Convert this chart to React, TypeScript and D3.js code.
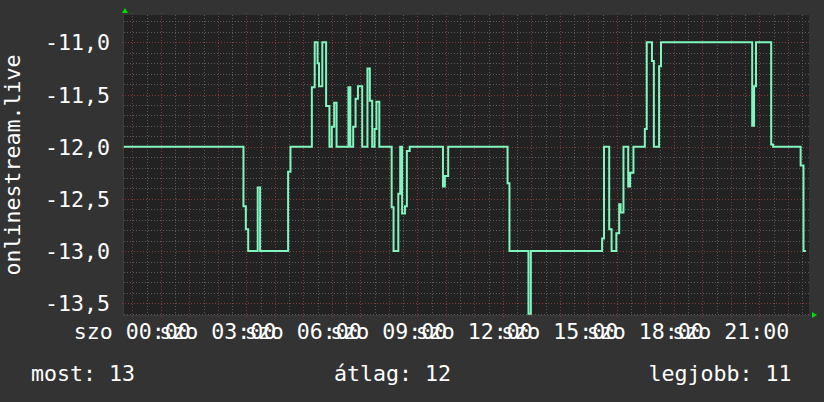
import React from "react";
import * as d3 from "d3";

// step start times in minutes from 00:00 (szo) and the values
const TIMES = [
  -18, 234, 239, 244, 264, 269, 328, 333, 378, 384, 390, 393, 400, 408, 415, 420, 425, 430,
  455, 459, 465, 470, 475, 484, 495, 500, 505, 510, 514, 520, 546, 550, 560, 564, 568, 574,
  578, 584, 654, 658, 665, 790, 794, 834, 839, 989, 993, 1004, 1009, 1019, 1025, 1028, 1034,
  1044, 1048, 1055, 1079, 1083, 1094, 1098, 1109, 1113, 1305, 1309, 1313, 1345, 1349, 1407,
  1413,
];
const VALUES = [
  -12.0, -12.57, -12.79, -13.0, -12.39, -13.0, -12.24, -12.0, -11.43, -11.0, -11.2, -11.42,
  -11.0, -11.61, -12.0, -11.81, -11.58, -12.0, -11.43, -12.0, -11.81, -11.54, -11.42, -12.0,
  -11.25, -11.56, -12.0, -11.83, -11.57, -12.0, -12.58, -13.0, -12.45, -12.0, -12.64, -12.57,
  -12.04, -12.0, -12.38, -12.28, -12.0, -12.35, -13.0, -13.6, -13.0, -12.88, -12.0, -12.79,
  -13.0, -12.83, -12.55, -12.63, -12.0, -12.38, -12.25, -12.0, -11.83, -11.0, -11.18, -12.0,
  -11.23, -11.0, -11.8, -11.42, -11.0, -11.98, -12.0, -12.18, -13.0,
];
const END_TIME = 1418;

const Y_TICKS = [-11.0, -11.5, -12.0, -12.5, -13.0, -13.5];
const Y_TICK_LABELS = ["-11,0", "-11,5", "-12,0", "-12,5", "-13,0", "-13,5"];
const X_LABEL_TIMES = [0, 180, 360, 540, 720, 900, 1080, 1260];
const X_LABELS = [
  "szo 00:00", "szo 03:00", "szo 06:00", "szo 09:00",
  "szo 12:00", "szo 15:00", "szo 18:00", "szo 21:00",
];
const Y_TITLE = "onlinestream.live";
const LEGEND = ["most: 13", "átlag: 12", "legjobb: 11"];

const W = 824;
const H = 402;
const L = 124;
const R = 809;
const T = 15;
const B = 315;
const FONT = "'DejaVu Sans Mono', monospace";
const FS = 21.6;

export default function App() {
  const x = d3.scaleLinear().domain([-17.5, 1424.6]).range([L, R]);
  const y = d3.scaleLinear().domain([-13.612, -10.7385]).range([B, T]);

  const pts: [number, number][] = TIMES.map((t, i) => [t, VALUES[i]]);
  pts.push([END_TIME, VALUES[VALUES.length - 1]]);
  const line = d3
    .line<[number, number]>()
    .x((d) => x(d[0]))
    .y((d) => y(d[1]))
    .curve(d3.curveStepAfter);

  const minorY = d3.range(-136, -107).map((v) => v / 10).filter((v) => y(v) >= T && y(v) <= B);
  const minorX = d3.range(0, 1441, 30).filter((t) => x(t) >= L && x(t) <= R);
  const majorX = d3.range(0, 1441, 60).filter((t) => x(t) >= L && x(t) <= R);

  const px = (v: number) => Math.round(v) + 0.5;

  return (
    <svg
      width={W}
      height={H}
      style={{ position: "absolute", left: 0, top: 0, display: "block" }}
      xmlns="http://www.w3.org/2000/svg"
    >
      <rect x={0} y={0} width={W} height={H} fill="#333333" />
      <rect x={L} y={T} width={R - L} height={B - T} fill="#222222" />

      {/* minor grid */}
      <g stroke="#5a5a5a" strokeWidth={1} strokeDasharray="1 2" shapeRendering="crispEdges">
        {minorY
          .filter((v) => Math.abs(v * 2 - Math.round(v * 2)) > 1e-6)
          .map((v) => (
            <line key={"my" + v} x1={L} x2={R + 2} y1={px(y(v))} y2={px(y(v))} />
          ))}
        {minorX
          .filter((t) => t % 60 !== 0)
          .map((t) => (
            <line key={"mx" + t} x1={px(x(t))} x2={px(x(t))} y1={T} y2={B} />
          ))}
      </g>
      {/* major grid */}
      <g stroke="#843838" strokeWidth={1} strokeDasharray="1 2" shapeRendering="crispEdges">
        {Y_TICKS.map((v) => (
          <line key={"My" + v} x1={L - 2} x2={R + 2} y1={px(y(v))} y2={px(y(v))} />
        ))}
        {majorX.map((t) => (
          <line key={"Mx" + t} x1={px(x(t))} x2={px(x(t))} y1={T - 2} y2={B + 3} />
        ))}
      </g>

      {/* axes */}
      <g stroke="#3c3c3c" strokeWidth={1} shapeRendering="crispEdges">
        <line x1={L - 1} x2={R + 3} y1={B + 0.5} y2={B + 0.5} />
        <line x1={L - 0.5} x2={L - 0.5} y1={T - 3} y2={B + 2} />
      </g>
      <polygon points={`${L - 2},${T - 2} ${L + 4},${T - 2} ${L + 1},${T - 7}`} fill="#00dd00" />
      <polygon points={`${R + 3},${B - 3} ${R + 3},${B + 3} ${R + 8},${B}`} fill="#00dd00" />

      {/* data line */}
      <path d={line(pts) || ""} fill="none" stroke="#80f5bd" strokeWidth={2} />

      {/* y tick labels */}
      <g fontFamily={FONT} fontSize={FS} fill="#ffffff" textAnchor="end">
        {Y_TICKS.map((v, i) => (
          <text key={"yl" + v} x={110} y={y(v) + 8}>
            {Y_TICK_LABELS[i]}
          </text>
        ))}
      </g>
      {/* x labels */}
      <g fontFamily={FONT} fontSize={FS} fill="#ffffff" textAnchor="middle">
        {X_LABEL_TIMES.map((t, i) => (
          <text key={"xl" + t} x={x(t)} y={339}>
            {X_LABELS[i]}
          </text>
        ))}
      </g>
      {/* y title */}
      <text
        transform={`translate(19.5,165) rotate(-90)`}
        fontFamily={FONT}
        fontSize={FS}
        fill="#ffffff"
        textAnchor="middle"
      >
        {Y_TITLE}
      </text>
      {/* legend */}
      <g fontFamily={FONT} fontSize={FS} fill="#ffffff">
        <text x={31} y={381}>{LEGEND[0]}</text>
        <text x={392.5} y={381} textAnchor="middle">{LEGEND[1]}</text>
        <text x={791.5} y={381} textAnchor="end">{LEGEND[2]}</text>
      </g>
    </svg>
  );
}
